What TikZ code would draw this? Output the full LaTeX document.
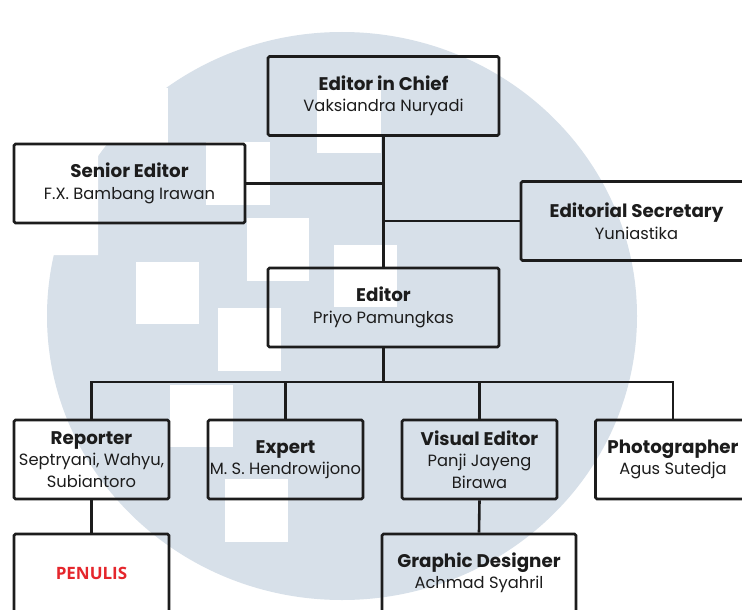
\documentclass[tikz,border=0pt]{standalone}
\usepackage{fontspec}
\setmainfont{Poppins}
\newfontfamily\penfont{Open Sans}
\definecolor{wm}{HTML}{D7E0E9}
\definecolor{ink}{HTML}{1C1C1C}
\definecolor{penred}{HTML}{E5262C}
\tikzset{
  orgbox/.style={draw=ink, line width=2.6pt, rounded corners=1.5pt, align=center,
    inner sep=0pt, text=ink, font=\fontsize{16.3}{21.5}\selectfont},
  wide/.style={orgbox, minimum width=231pt, minimum height=79pt},
  narrow/.style={orgbox, minimum width=155pt, minimum height=79pt},
  link/.style={draw=ink, line width=2.6pt},
}
\newcommand{\ttl}[1]{{\fontsize{18.3}{21.5}\selectfont\bfseries #1}}
\begin{document}
\begin{tikzpicture}[x=1pt,y=-1pt]
\path[use as bounding box, clip] (0,0) rectangle (742,610);
\fill[white] (0,0) rectangle (742,610);
% watermark
\fill[wm] (342,316) ellipse [x radius=295, y radius=284];
\fill[white] (317,90) rectangle (381,153);
\fill[white] (108,88) rectangle (168,143);
\fill[white] (20,88) -- (108,88) -- (108,127) -- (98,140) -- (98,255) -- (20,255) -- cycle;
\fill[white] (206,142) rectangle (270,205);
\fill[white] (247,218) rectangle (309,281);
\fill[white] (334,245) rectangle (397,307);
\fill[white] (136,262) rectangle (199,324);
\fill[white] (218,308) rectangle (281,371);
\fill[white] (170,385) rectangle (233,447);
\fill[white] (225,479) rectangle (288,542);
% boxes
\node[wide] (eic) at (383.5,96) {\ttl{Editor in Chief}\\Vaksiandra Nuryadi};
\node[wide] (se) at (129.5,183.5) {\ttl{Senior Editor}\\F.X. Bambang Irawan};
\node[wide] (es) at (636.5,221) {\ttl{Editorial Secretary}\\Yuniastika};
\node[wide] (ed) at (383.5,307.5) {\ttl{Editor}\\Priyo Pamungkas};
\node[narrow] (rep) at (91.5,459.5) {\ttl{Reporter}\\Septryani, Wahyu,\\Subiantoro};
\node[narrow] (exp) at (285.5,459.5) {\ttl{Expert}\\M. S. Hendrowijono};
\node[narrow] (vis) at (479.5,459.5) {\ttl{Visual Editor}\\Panji Jayeng\\Birawa};
\node[narrow] (pho) at (673,459.5) {\ttl{Photographer}\\Agus Sutedja};
\node[narrow, minimum height=78pt] (pen) at (91.5,573) {\penfont\fontsize{17}{20}\selectfont\bfseries\textcolor{penred}{PENULIS}};
\node[orgbox, minimum width=194pt, minimum height=78pt] (gd) at (479,573) {\ttl{Graphic Designer}\\Achmad Syahril};
% connectors
\coordinate (bus) at (383.5,382);
\path[link] (eic.south) -- (ed.north);
\path[link] (se.east) -- (se.east -| eic.south);
\path[link] (es.west) -- (es.west -| eic.south);
\path[link] (ed.south) -- (bus);
\path[link] (rep.north) -- (rep.north |- bus) -- (pho.north |- bus) -- (pho.north);
\path[link] (exp.north) -- (exp.north |- bus);
\path[link] (vis.north) -- (vis.north |- bus);
\path[link] (rep.south) -- (pen.north);
\path[link] (vis.south) -- (gd.north);
\end{tikzpicture}
\end{document}
